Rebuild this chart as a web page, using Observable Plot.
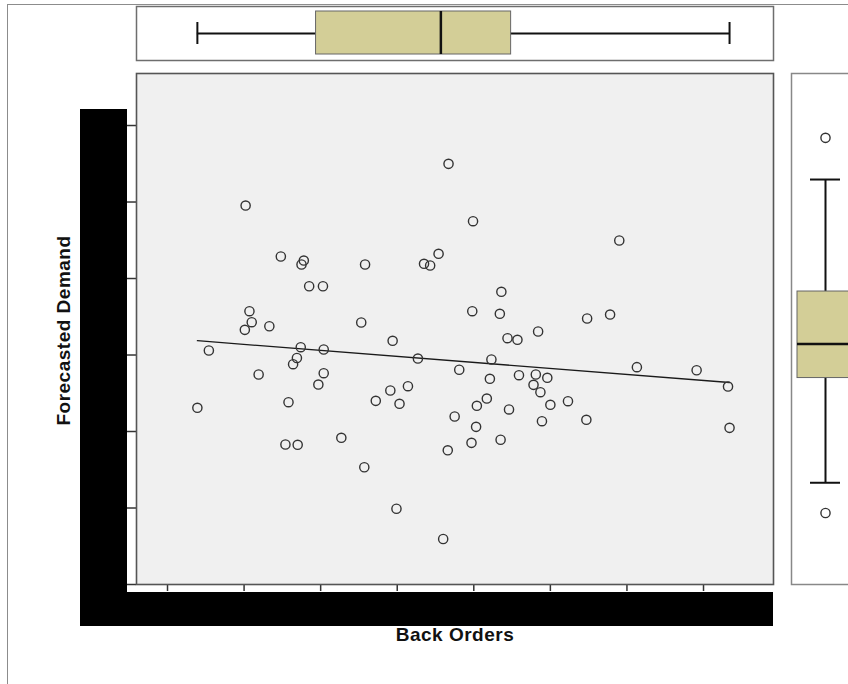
<!DOCTYPE html>
<html><head><meta charset="utf-8">
<script src="https://cdn.jsdelivr.net/npm/d3@7"></script>
<script src="https://cdn.jsdelivr.net/npm/@observablehq/plot@0.6"></script>
<style>
html,body{margin:0;padding:0;background:#fff;}
#root{position:relative;width:848px;height:684px;overflow:hidden;background:#fff;font-family:"Liberation Sans",Arial,sans-serif;}
#root > *{position:absolute;}
.lbl{font-weight:bold;font-size:19px;line-height:19px;letter-spacing:0.5px;color:#111;text-align:center;white-space:nowrap;}
.blk{background:#000;}
</style></head><body><div id="root"></div>
<script>
// ---- data ----
const backOrders = [46.7,20.2,24.8,27.8,27.5,35.8,43.5,44.3,45.4,28.5,30.3,20.7,21.0,20.1,23.3,35.3,39.4,15.4,27.4,30.4,26.9,42.7,49.9,69.0,53.6,49.8,53.4,64.8,67.8,58.4,54.4,55.7,52.3,26.4,48.1,21.9,30.4,29.7,39.1,41.4,37.2,40.3,13.9,25.8,47.5,25.4,27.0,32.7,46.6,35.7,39.9,46.0,71.3,79.1,83.2,52.1,55.9,58.1,59.6,57.8,58.7,51.7,50.4,60.0,62.3,54.6,58.9,64.7,50.3,83.4,49.7,53.5];
const forecastedDemand = [549.9,495.4,428.8,423.5,418.3,418.3,419.2,417.0,432.3,389.9,389.9,357.3,342.9,332.9,337.6,342.5,318.6,305.9,310.2,307.2,296.1,295.4,474.9,449.7,382.6,357.3,353.9,347.7,352.9,330.7,322.0,319.9,294.1,288.0,280.7,274.5,276.2,261.4,253.6,259.2,240.1,236.2,231.0,238.3,219.6,183.0,182.6,191.8,175.4,153.3,99.0,59.5,284.1,280.1,258.8,268.9,273.6,274.5,270.2,261.0,251.4,243.1,233.6,234.9,239.6,228.8,213.5,215.3,206.1,204.8,185.2,189.2];
const xTicks = [10,20,30,40,50,60,70,80];
const yTicks = [0,100,200,300,400,500,600];
const xDomain = [5.95, 89.14];
const yDomain = [0, 668];
const xLabel = "Back Orders";
const yLabel = "Forecasted Demand";
const rightBoxShift = 34; // marginal box plot offset seen in the reference

(function () {
const points = backOrders.map((x, i) => ({x, y: forecastedDemand[i]}));

function boxStats(v) {
  const s = d3.sort(v);
  const q1 = d3.quantile(s, 0.25), q2 = d3.quantile(s, 0.5), q3 = d3.quantile(s, 0.75);
  const iqr = q3 - q1;
  const lo = d3.min(s.filter(d => d >= q1 - 1.5 * iqr));
  const hi = d3.max(s.filter(d => d <= q3 + 1.5 * iqr));
  return {q1, q2, q3, lo, hi, outliers: s.filter(d => d < lo || d > hi)};
}

const root = document.getElementById("root");
function add(el, css) { Object.assign(el.style, css); root.appendChild(el); return el; }

// outer frame
add(document.createElement("div"), {left:"7px", top:"4px", width:"900px", height:"700px", borderLeft:"1px solid #8c8c8c", borderTop:"1px solid #8c8c8c"});

// main scatter
const mainPlot = Plot.plot({
  width: 848, height: 684,
  marginLeft: 136, marginRight: 75, marginTop: 73, marginBottom: 100,
  style: {background: "transparent", overflow: "visible"},
  x: {domain: xDomain},
  y: {domain: yDomain},
  marks: [
    Plot.frame({fill: "#f0f0f0", stroke: null}),
    Plot.axisX({ticks: xTicks, tickSize: 7, tickFormat: () => "", label: null, stroke: "#333", strokeWidth: 1.5}),
    Plot.axisY({ticks: yTicks, tickSize: 9, tickFormat: () => "", label: null, stroke: "#333", strokeWidth: 1.5}),
    Plot.linearRegressionY(points, {x: "x", y: "y", ci: 0, stroke: "#1a1a1a", strokeWidth: 1.3}),
    Plot.dot(points, {x: "x", y: "y", r: 4.6, stroke: "#333", strokeWidth: 1.4, fill: "none"}),
    Plot.frame({stroke: "#555", strokeWidth: 1.6})
  ]
});
add(mainPlot, {left: "0px", top: "0px"});

// top marginal box plot (Back Orders)
const xs = boxStats(backOrders);
const topPlot = Plot.plot({
  width: 848, height: 62,
  marginLeft: 136, marginRight: 75, marginTop: 6, marginBottom: 2,
  style: {background: "transparent", overflow: "visible"},
  x: {domain: xDomain, axis: null},
  y: {domain: [0, 1], axis: null},
  marks: [
    Plot.frame({fill: "#fff", stroke: "#6e6e6e", strokeWidth: 1.5}),
    Plot.ruleY([xs], {y: () => 0.5, x1: "lo", x2: "hi", stroke: "#111", strokeWidth: 2}),
    Plot.tickX([xs.lo, xs.hi], {x: d => d, insetTop: 16, insetBottom: 16, stroke: "#111", strokeWidth: 2}),
    Plot.rect([xs], {x1: "q1", x2: "q3", insetTop: 5, insetBottom: 6, fill: "#d3ce97", stroke: "#666", strokeWidth: 1}),
    Plot.tickX([xs.q2], {x: d => d, insetTop: 5, insetBottom: 6, stroke: "#111", strokeWidth: 2.5}),
    Plot.dot(xs.outliers, {x: d => d, y: () => 0.5, r: 4.6, stroke: "#333", strokeWidth: 1.4, fill: "none"})
  ]
});
add(topPlot, {left: "0px", top: "0px"});

// right marginal box plot (Forecasted Demand)
const ys = boxStats(forecastedDemand);
const rightPlot = Plot.plot({
  width: 70, height: 684,
  marginLeft: 1, marginRight: 1, marginTop: 73, marginBottom: 100,
  style: {background: "transparent", overflow: "visible"},
  x: {domain: [0, 1], axis: null},
  y: {domain: [yDomain[0] - rightBoxShift, yDomain[1] - rightBoxShift], axis: null},
  marks: [
    Plot.frame({fill: "#fff", stroke: "#888", strokeWidth: 1.5}),
    Plot.ruleX([ys], {x: () => 0.5, y1: "lo", y2: "hi", stroke: "#111", strokeWidth: 2}),
    Plot.tickY([ys.lo, ys.hi], {y: d => d, insetLeft: 19, insetRight: 19, stroke: "#111", strokeWidth: 2}),
    Plot.rect([ys], {y1: "q1", y2: "q3", insetLeft: 6, insetRight: 6, fill: "#d3ce97", stroke: "#666", strokeWidth: 1}),
    Plot.tickY([ys.q2], {y: d => d, insetLeft: 6, insetRight: 6, stroke: "#111", strokeWidth: 2.5}),
    Plot.dot(ys.outliers, {y: d => d, x: () => 0.5, r: 4.6, stroke: "#333", strokeWidth: 1.4, fill: "none"})
  ]
});
add(rightPlot, {left: "790px", top: "0px"});

// redaction blocks over tick labels
add(document.createElement("div"), {left: "80px", top: "109px", width: "47px", height: "517px"}).className = "blk";
add(document.createElement("div"), {left: "80px", top: "592px", width: "693px", height: "34px"}).className = "blk";

// axis titles
const xl = add(document.createElement("div"), {left: "355px", top: "625px", width: "200px"});
xl.className = "lbl"; xl.textContent = xLabel;
const yl = add(document.createElement("div"), {left: "-67px", top: "320.5px", width: "260px", transform: "rotate(-90deg)", transformOrigin: "50% 50%"});
yl.className = "lbl"; yl.textContent = yLabel;
})();
</script></body></html>
